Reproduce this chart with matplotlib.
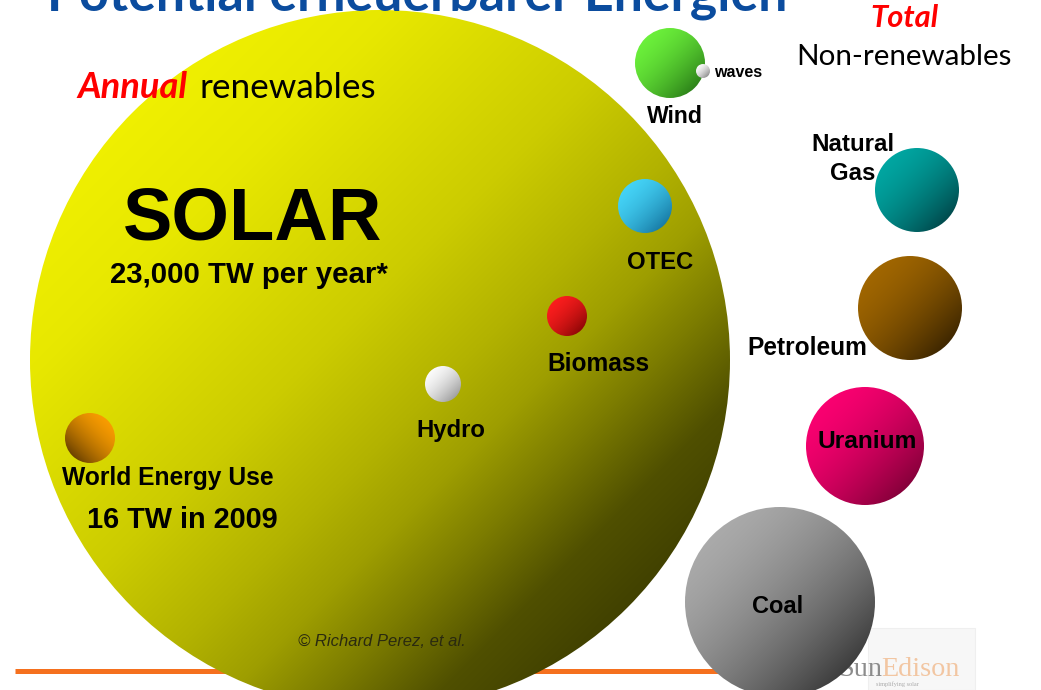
import numpy as np
import matplotlib
matplotlib.use("Agg")
import matplotlib.pyplot as plt
from matplotlib.patches import Circle, Rectangle

# ---------------- data ----------------
title = "Potential erneuerbarer Energien"
solar_label = "SOLAR"
solar_value_tw = "23,000"
world_use_tw = 16
world_use_year = 2009
renewables = ["Wind", "waves", "OTEC", "Biomass", "Hydro"]
non_renewables = ["Natural\nGas", "Petroleum", "Uranium", "Coal"]
credit = "\u00a9 Richard Perez, et al."

# ---------------- layout (pixel space) ----------------
W, H = 1041, 690
# name: (cx, cy, r, light rgb, dark rgb, light-direction)
spheres = {
    "Solar":     (380, 360, 350, (250, 250, 0), (20, 20, 0), "tl"),
    "Wind":      (670, 63, 35, (110, 245, 60), (25, 95, 15), "tl"),
    "waves":     (703, 71, 7, (255, 255, 255), (110, 110, 110), "tl"),
    "OTEC":      (645, 206, 27, (70, 215, 250), (10, 95, 140), "tl"),
    "Biomass":   (567, 316, 20, (255, 30, 30), (110, 0, 0), "tl"),
    "Hydro":     (443, 384, 18, (255, 255, 255), (130, 130, 130), "tl"),
    "World":     (90, 438, 25, (255, 160, 0), (60, 35, 0), "tr"),
    "Natural\nGas": (917, 190, 42, (0, 170, 165), (0, 45, 50), "tl"),
    "Petroleum": (910, 308, 52, (165, 105, 0), (30, 18, 0), "tl"),
    "Uranium":   (865, 446, 59, (255, 0, 115), (95, 0, 40), "tl"),
    "Coal":      (780, 602, 95, (175, 175, 175), (25, 25, 25), "tl"),
}

fig = plt.figure(figsize=(W / 100, H / 100), dpi=100)
ax = fig.add_axes([0, 0, 1, 1])
ax.set_xlim(0, W)
ax.set_ylim(H, 0)
ax.axis("off")
fig.patch.set_facecolor("white")
renderer = fig.canvas.get_renderer()

# shading curve for the big sphere
big_s = [0, 0.26, 0.45, 0.56, 0.63, 0.70, 0.78, 0.85, 1.0]
big_g = [0, 0.08, 0.20, 0.31, 0.40, 0.55, 0.74, 0.80, 0.9]


def sphere(cx, cy, r, light, dark, direction, z, big=False):
    n = 500 if big else 160
    xs = np.linspace(-1, 1, n)
    X, Y = np.meshgrid(xs, xs)  # Y: -1 top, +1 bottom
    if direction == "tl":
        t = (X + Y) / 2
    else:
        t = (-X + Y) / 2
    s = np.clip((t + 1) / 2, 0, 1)
    g = np.interp(s, big_s, big_g) if big else s ** 1.8
    light = np.array(light) / 255.0
    dark = np.array(dark) / 255.0
    rgb = light[None, None, :] + (dark - light)[None, None, :] * g[..., None]
    im = ax.imshow(rgb, extent=(cx - r, cx + r, cy + r, cy - r),
                   origin="upper", interpolation="bilinear", zorder=z)
    clip = Circle((cx, cy), r, transform=ax.transData)
    im.set_clip_path(clip)


def fit(x, y, s, width, size=20, **kw):
    t = ax.text(x, y, s, fontsize=size, **kw)
    bb = t.get_window_extent(renderer)
    t.set_fontsize(size * width / bb.width)
    return t


# orange rule line and SunEdison logo (behind spheres)
ax.plot([15, 830], [671, 671], color="#f5701e", lw=3.6, solid_capstyle="butt", zorder=1)
ax.add_patch(Rectangle((868, 628), 107, 62, facecolor="#f7f7f7", edgecolor="#efefef",
                       lw=0.8, zorder=1))
t_sun = fit(838, 676, "Sun", 44, family="Liberation Serif", color="#8c8c8c",
            ha="left", va="baseline", zorder=1.5)
ax.text(881, 676, "Edison", fontsize=t_sun.get_fontsize(), family="Liberation Serif",
        color="#f2c6a2", ha="left", va="baseline", zorder=1.5)
ax.text(897, 686, "simplifying solar", fontsize=4.5, family="Liberation Serif",
        color="#aaaaaa", ha="center", va="baseline", zorder=1.5)

# spheres
for name, (cx, cy, r, lc, dc, d) in spheres.items():
    big = name == "Solar"
    sphere(cx, cy, r, lc, dc, d, 2 if big else 3, big=big)

# ---------------- texts ----------------
bold = dict(family="Liberation Sans", weight="bold", color="black", zorder=5)

fit(47, 10, title, 741, family="Lato", weight="bold", color="#0b4c9e",
    ha="left", va="baseline", zorder=5)
fit(904, 27, "Total", 68, family="Lato", weight="bold", style="italic",
    color="#ff0000", ha="center", va="baseline", zorder=5)
fit(904, 65, "Non-renewables", 215, family="Lato", color="black",
    ha="center", va="baseline", zorder=5)
fit(77, 98, "Annual", 110, family="Lato", weight="bold", style="italic",
    color="#ff0000", ha="left", va="baseline", zorder=5)
fit(199, 98, "renewables", 177, family="Lato", color="black",
    ha="left", va="baseline", zorder=5)

fit(123, 239, solar_label, 259, ha="left", va="baseline", **bold)
fit(110, 283, f"{solar_value_tw} TW per year*", 278, ha="left", va="baseline", **bold)

label_pos = {
    "Wind": (675, 123, 56, "center"),
    "waves": (714, 77, 48, "left"),
    "OTEC": (660, 269, 66, "center"),
    "Biomass": (598, 371, 102, "center"),
    "Hydro": (451, 437, 69, "center"),
    "Petroleum": (807, 355, 120, "center"),
    "Uranium": (867, 448, 99, "center"),
    "Coal": (778, 613, 51, "center"),
}
for name in renewables + non_renewables:
    if name in label_pos:
        x, y, w, ha = label_pos[name]
        fit(x, y, name, w, ha=ha, va="baseline", **bold)

ng1, ng2 = non_renewables[0].split("\n")
fit(853, 151, ng1, 83, ha="center", va="baseline", **bold)
fit(853, 180, ng2, 45, ha="center", va="baseline", **bold)

fit(62, 485, "World Energy Use", 211, ha="left", va="baseline", **bold)
fit(87, 528, f"{world_use_tw} TW in {world_use_year}", 191, ha="left", va="baseline", **bold)

fit(298, 646, credit, 167, family="Liberation Sans", style="italic",
    color="#2a2a10", ha="left", va="baseline", zorder=5)

fig.savefig("out.png", dpi=100, facecolor="white")
